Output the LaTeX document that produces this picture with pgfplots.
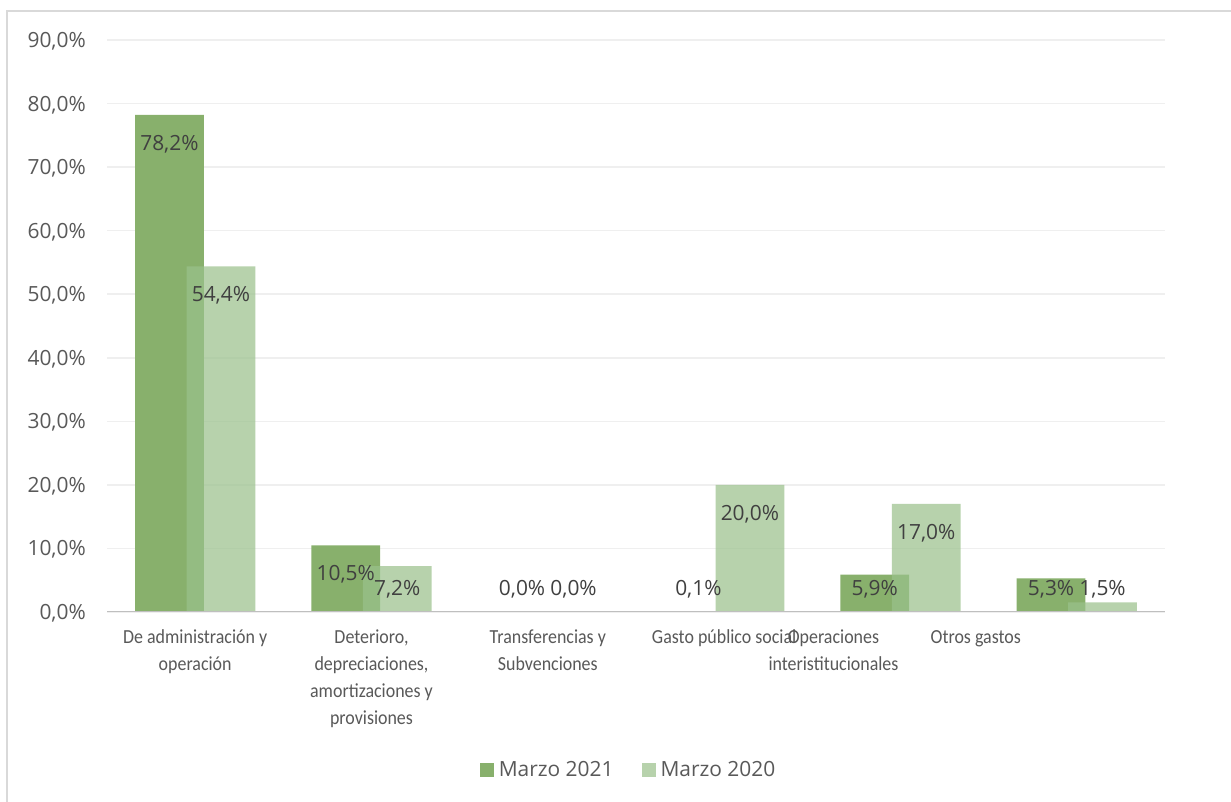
\documentclass[border=0pt]{standalone}
\usepackage{pgfplots}
\pgfplotsset{compat=1.18}
\usepackage{pgfplotstable}
\usepackage{fontspec}
\setmainfont{Open Sans}
\newfontfamily\catfont[FakeStretch=0.9]{Carlito}

\definecolor{verde21}{HTML}{88B06C}
\definecolor{verde20}{HTML}{9AC18B}
\definecolor{gris}{HTML}{595959}
\definecolor{grisdato}{HTML}{404040}
\definecolor{rejilla}{HTML}{EFEFEF}
\definecolor{ejex}{HTML}{BFBFBF}
\definecolor{marco}{HTML}{D9D9D9}

% gastos por categoria, porcentaje
\pgfplotstableread{
x v21 v20
0 78.2 54.4
1 10.5 7.2
2 0.0 0.0
3 0.1 20.0
4 5.9 17.0
5 5.3 1.5
}\datos

\pgfplotsset{
  etiqueta/.style={
    nodes near coords={\pgfmathprintnumber[fixed,fixed zerofill,precision=1,use comma]{\pgfplotspointmeta}\%},
    point meta=y,
    visualization depends on={rawy \as \ry},
    every node near coord/.append style={
      font=\fontsize{21}{25}\selectfont, text=grisdato, anchor=base, inner sep=0pt,
      xshift=#1,
      yshift={((max(\ry-4.4,3.82)-\ry)*6.3556-7.5)*1.00375}},
  },
}

\begin{document}
\begin{tikzpicture}
\useasboundingbox (0,0) rectangle (1231bp,802bp);
\fill[white] (0,0) rectangle (1231bp,802bp);
\draw[marco, line width=1.5bp] (7bp,0) -- (7bp,791bp) -- (1231bp,791bp);
\begin{axis}[
    at={(107bp,190bp)}, anchor=south west,
    scale only axis, width=1058bp, height=572bp,
    xmin=-0.5, xmax=5.5, ymin=0, ymax=90,
    axis line style={draw=none},
    major tick length=0pt,
    ytick={0,10,...,90},
    ymajorgrids,
    major grid style={draw=rejilla, line width=1.5bp},
    /pgf/number format/assume math mode=true,
    yticklabel={\pgfmathprintnumber[fixed,fixed zerofill,precision=1,use comma]{\tick}\%},
    yticklabel style={font=\fontsize{21}{25}\selectfont, text=gris, anchor=base east,
      inner sep=0pt, xshift=-21bp, yshift=-7.5bp},
    xtick={0,1,2,3,3.62,4.427},
    xticklabels={
      {\strut De administración y\\operación},
      {\strut Deterioro,\\depreciaciones,\\amortizaciones y\\provisiones},
      {\strut Transferencias y\\Subvenciones},
      {\strut Gasto público social},
      {\strut Operaciones\\interistitucionales},
      {\strut Otros gastos}},
    xticklabel style={font=\fontsize{20}{27}\selectfont\catfont, text=gris, align=center,
      anchor=north, inner sep=0pt, yshift=-12.6bp},
    legend columns=2,
    legend cell align=left,
    legend style={at={(0.492,-0.2762)}, anchor=center, draw=none, fill=none,
      inner sep=0pt, font=\fontsize{21}{25}\selectfont, text=gris,
      nodes={inner sep=0pt},
      /tikz/every odd column/.append style={column sep=5bp},
      /tikz/every even column/.append style={column sep=28bp}},
    legend image code/.code={\fill (0bp,-7bp) rectangle (14bp,7bp);},
  ]
  \addplot[ybar, bar width=0.39, bar shift=-0.146, fill=verde21, draw=none]
    table[x=x, y=v21] {\datos};
  \addlegendentry{Marzo 2021}
  \addplot[ybar, bar width=0.39, bar shift=0.146, fill=verde20, fill opacity=0.71, draw=none]
    table[x=x, y=v20] {\datos};
  \addlegendentry{Marzo 2020}
  \draw[ejex, line width=2.2bp] (axis cs:-0.5,0) -- (axis cs:5.5,0);
  \addplot[ybar, bar width=0.39, bar shift=-0.146, draw=none, fill=none, forget plot, etiqueta=-25.75bp]
    table[x=x, y=v21] {\datos};
  \addplot[ybar, bar width=0.39, bar shift=0.146, draw=none, fill=none, forget plot, etiqueta=25.75bp]
    table[x=x, y=v20] {\datos};
\end{axis}
\end{tikzpicture}
\end{document}
